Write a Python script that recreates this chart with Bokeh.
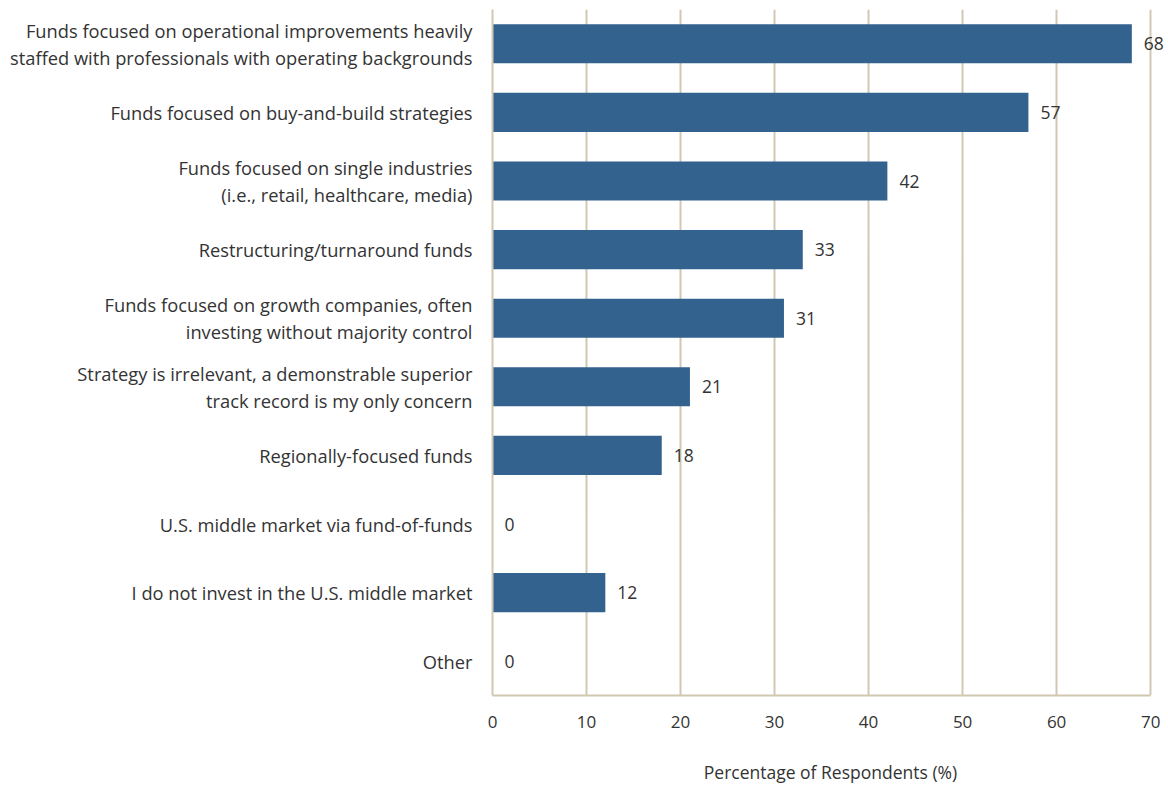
from bokeh.plotting import figure
from bokeh.models import ColumnDataSource, FactorRange, FixedTicker, LabelSet
from bokeh.embed import file_html
from bokeh.resources import INLINE
from bokeh.core.properties import value

categories = [
    "Funds focused on operational improvements heavily\nstaffed with professionals with operating backgrounds",
    "Funds focused on buy-and-build strategies",
    "Funds focused on single industries\n(i.e., retail, healthcare, media)",
    "Restructuring/turnaround funds",
    "Funds focused on growth companies, often\ninvesting without majority control",
    "Strategy is irrelevant, a demonstrable superior\ntrack record is my only concern",
    "Regionally-focused funds",
    "U.S. middle market via fund-of-funds",
    "I do not invest in the U.S. middle market",
    "Other",
]
values = [68, 57, 42, 33, 31, 21, 18, 0, 12, 0]
x_ticks = [0, 10, 20, 30, 40, 50, 60, 70]

FONT = "Open Sans"
TXT = "#333333"
GRID = "#d2c8b2"
BAR = "#33628f"

src = ColumnDataSource(dict(cat=categories, val=values, lab=[str(v) for v in values]))

p = figure(
    width=1168, height=787, title=None,
    y_range=FactorRange(*list(reversed(categories))),
    x_range=(0, 71.9),
    output_backend="svg", toolbar_location=None,
    min_border_left=492, min_border_right=0, min_border_top=9, min_border_bottom=92,
)
p.outline_line_color = None
p.hbar(y="cat", right="val", left=0, height=0.57, source=src, color=BAR, line_color=None)
labels = LabelSet(x="val", y="cat", text="lab", source=src, x_offset=12, text_align="left",
                  text_baseline="middle", text_font=value(FONT), text_font_size=value("17.5px"),
                  text_color=TXT)
p.add_layout(labels)

p.xaxis.ticker = FixedTicker(ticks=x_ticks)
p.xaxis.bounds = (0, 70)
p.xaxis.axis_label = "Percentage of Respondents (%)"
p.xaxis.axis_label_text_font = FONT
p.xaxis.axis_label_text_font_size = "17.5px"
p.xaxis.axis_label_text_font_style = "normal"
p.xaxis.axis_label_text_color = TXT
p.xaxis.axis_label_standoff = 29
p.xaxis.major_label_text_font = FONT
p.xaxis.major_label_text_font_size = "17px"
p.xaxis.major_label_text_color = TXT
p.xaxis.major_label_standoff = 14
p.yaxis.major_label_text_font = FONT
p.yaxis.major_label_text_font_size = "18.3px"
p.yaxis.major_label_text_color = TXT
p.yaxis.major_label_text_line_height = 1.07
p.yaxis.major_label_standoff = 14
for ax in (p.xaxis, p.yaxis):
    ax.axis_line_color = GRID
    ax.axis_line_width = 2
    ax.major_tick_line_color = None
    ax.minor_tick_line_color = None
p.xgrid.grid_line_color = GRID
p.xgrid.grid_line_width = 2
p.ygrid.grid_line_color = None

open("out.html", "w").write(file_html(p, INLINE))
